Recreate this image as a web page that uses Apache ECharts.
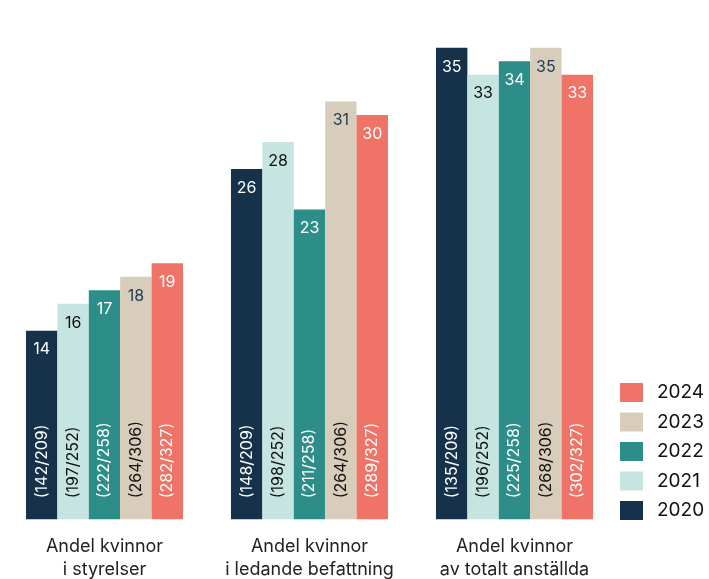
<!DOCTYPE html>
<html>
<head>
<meta charset="utf-8">
<script src="https://cdn.jsdelivr.net/npm/echarts@6/dist/echarts.min.js"></script>
<style>html,body{margin:0;padding:0;background:#fff}#c{width:709px;height:579px}</style>
</head>
<body>
<div id="c"></div>
<script>
const categories = ['Andel kvinnor\ni styrelser', 'Andel kvinnor\ni ledande befattning', 'Andel kvinnor\nav totalt anställda'];
const years = ['2020', '2021', '2022', '2023', '2024'];
const values2020 = [14, 26, 35];
const values2021 = [16, 28, 33];
const values2022 = [17, 23, 34];
const values2023 = [18, 31, 35];
const values2024 = [19, 30, 33];
const counts2020 = ['(142/209)', '(148/209)', '(135/209)'];
const counts2021 = ['(197/252)', '(198/252)', '(196/252)'];
const counts2022 = ['(222/258)', '(211/258)', '(225/258)'];
const counts2023 = ['(264/306)', '(264/306)', '(268/306)'];
const counts2024 = ['(282/327)', '(289/327)', '(302/327)'];

const allValues = [values2020, values2021, values2022, values2023, values2024];
const allCounts = [counts2020, counts2021, counts2022, counts2023, counts2024];
const colors = ['#15324a', '#c6e5e1', '#2d8d89', '#d8cdba', '#ef7367'];
const valueText = ['#ffffff', '#111111', '#ffffff', '#1f3a55', '#ffffff'];
const countText = ['#ffffff', '#111111', '#ffffff', '#111111', '#ffffff'];
const FONT = 'Inter';

const series = [];
years.forEach((y, i) => {
  series.push({
    name: y, type: 'bar', xAxisIndex: 0, yAxisIndex: 0,
    data: allValues[i], barGap: 0, barCategoryGap: '23.4%',
    itemStyle: { color: colors[i] },
    label: { show: true, position: 'insideTop', distance: 11, color: valueText[i], fontSize: 16, fontFamily: FONT },
    emphasis: { disabled: true }, silent: true
  });
});
years.forEach((y, i) => {
  series.push({
    name: 'c' + y, type: 'bar', xAxisIndex: 1, yAxisIndex: 0,
    data: allValues[i], barGap: 0, barCategoryGap: '23.4%',
    itemStyle: { color: 'rgba(0,0,0,0)' },
    label: {
      show: true, position: 'insideBottom', distance: 21, rotate: 90,
      align: 'left', verticalAlign: 'middle',
      formatter: (p) => allCounts[i][p.dataIndex],
      color: countText[i], fontSize: 16, fontFamily: FONT
    },
    emphasis: { disabled: true }, silent: true, z: 5
  });
});

const chart = echarts.init(document.getElementById('c'));
chart.setOption({
  animation: false,
  textStyle: { fontFamily: FONT },
  grid: { left: 2, right: 92, top: 47.7, bottom: 59.7, containLabel: false, outerBoundsMode: 'none' },
  legend: {
    data: years.slice().reverse(), orient: 'vertical', left: 620, top: 383, padding: 0,
    itemWidth: 23, itemHeight: 19, itemGap: 10.5,
    icon: 'rect',
    textStyle: { fontSize: 19, color: '#111111', fontFamily: FONT, padding: [0, 0, 0, 9] },
    selectedMode: false
  },
  xAxis: [{
    type: 'category', data: categories,
    axisLine: { show: false }, axisTick: { show: false },
    axisLabel: { fontSize: 18, color: '#222222', lineHeight: 23, margin: 16, fontFamily: FONT, interval: 0 }
  }, {
    type: 'category', data: categories, show: false
  }],
  yAxis: { type: 'value', min: 0, max: 35, show: false, splitLine: { show: false } },
  series: series
});
</script>
</body>
</html>
